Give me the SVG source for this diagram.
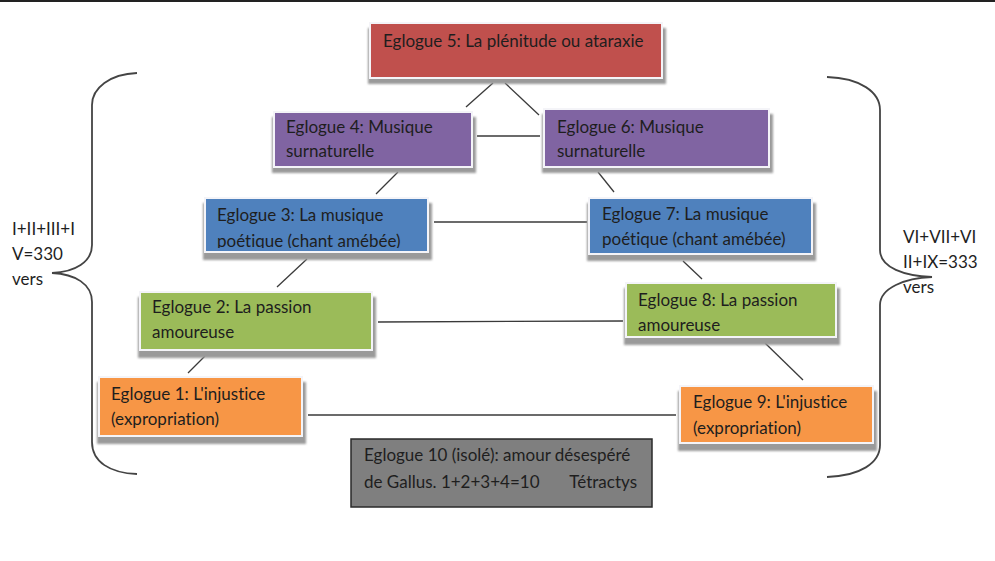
<svg xmlns="http://www.w3.org/2000/svg" width="995" height="561" viewBox="0 0 995 561">
<style>
text{font-family:Lato,"Open Sans","Liberation Sans",sans-serif;font-size:17px;fill:#1e1e1e;font-variant-ligatures:none}
.box{stroke:#f4f4f8;stroke-width:2}
.sh{fill:#9a9a9a;filter:url(#blur)}
.ln{stroke:#3a3a3a;stroke-width:1.3;fill:none}
.br{stroke:#444;stroke-width:1.8;fill:none}
</style>
<defs>
<filter id="blur" x="-5%" y="-20%" width="110%" height="140%"><feGaussianBlur stdDeviation="1.2"/></filter>
<clipPath id="c3"><rect x="205" y="198" width="223" height="50"/></clipPath>
</defs>
<rect x="0" y="0" width="995" height="561" fill="#fff"/>
<rect x="0" y="0" width="995" height="2" fill="#222"/>
<g id="connectors">
<line class="ln" x1="493" y1="83" x2="466" y2="107"/>
<line class="ln" x1="505" y1="83" x2="539" y2="115"/>
<line class="ln" x1="477" y1="136" x2="540" y2="136"/>
<line class="ln" x1="398" y1="172" x2="376" y2="194"/>
<line class="ln" x1="598" y1="172" x2="614" y2="192"/>
<line class="ln" x1="434" y1="222" x2="587" y2="222"/>
<line class="ln" x1="307" y1="259" x2="277" y2="287"/>
<line class="ln" x1="683" y1="261" x2="702" y2="279"/>
<line class="ln" x1="378" y1="322" x2="623" y2="321"/>
<line class="ln" x1="205" y1="356" x2="188" y2="373"/>
<line class="ln" x1="765" y1="343" x2="803" y2="380"/>
<line class="ln" x1="308" y1="415" x2="676" y2="415"/>
</g>
<g id="brace-left">
<path class="br" d="M137,73 C110,74 92,88 92,105 L92,245 C92,262 75,272 52,273 C75,274 92,284 92,302 L92,442 C92,462 110,473 137,474"/>
<text x="12" y="235">I+II+III+I</text>
<text x="12" y="260">V=330</text>
<text x="12" y="285">vers</text>
</g>
<g id="brace-right">
<path class="br" d="M827,77 C860,78 880,92 880,110 L880,250 C880,268 905,276 932,277 C905,278 880,288 880,305 L880,445 C880,463 860,476 827,477"/>
<text x="903" y="243">VI+VII+VI</text>
<text x="903" y="268">II+IX=333</text>
<text x="903" y="293">vers</text>
</g>
<g id="e5">
<rect class="sh" x="368" y="28" width="298" height="56"/>
<rect class="box" x="370" y="23" width="292" height="55" fill="#C0504D"/>
<text x="383" y="47">Eglogue 5: La plénitude ou ataraxie</text>
</g>
<g id="e4">
<rect class="sh" x="272" y="117" width="204" height="56"/>
<rect class="box" x="274" y="112" width="198" height="55" fill="#8064A2"/>
<text x="286" y="133">Eglogue 4: Musique</text>
<text x="286" y="157">surnaturelle</text>
</g>
<g id="e6">
<rect class="sh" x="542" y="114" width="231" height="59"/>
<rect class="box" x="544" y="109" width="225" height="58" fill="#8064A2"/>
<text x="557" y="133">Eglogue 6: Musique</text>
<text x="557" y="157">surnaturelle</text>
</g>
<g id="e3">
<rect class="sh" x="203" y="203" width="229" height="57"/>
<rect class="box" x="205" y="198" width="223" height="54" fill="#4F81BD"/>
<text x="217" y="221">Eglogue 3: La musique</text>
<text x="217" y="247" clip-path="url(#c3)">poétique (chant amébée)</text>
</g>
<g id="e7">
<rect class="sh" x="587" y="203" width="229" height="58"/>
<rect class="box" x="589" y="198" width="223" height="56" fill="#4F81BD"/>
<text x="602" y="220">Eglogue 7: La musique</text>
<text x="602" y="245">poétique (chant amébée)</text>
</g>
<g id="e2">
<rect class="sh" x="138" y="297" width="238" height="61"/>
<rect class="box" x="140" y="292" width="232" height="58" fill="#9BBB59"/>
<text x="152" y="313">Eglogue 2: La passion</text>
<text x="152" y="338">amoureuse</text>
</g>
<g id="e8">
<rect class="sh" x="624" y="288" width="216" height="57"/>
<rect class="box" x="626" y="283" width="210" height="54" fill="#9BBB59"/>
<text x="638" y="306">Eglogue 8: La passion</text>
<text x="638" y="331">amoureuse</text>
</g>
<g id="e1">
<rect class="sh" x="97" y="382" width="209" height="62"/>
<rect class="box" x="99" y="377" width="203" height="59" fill="#F79646"/>
<text x="111" y="400">Eglogue 1: L'injustice</text>
<text x="111" y="425">(expropriation)</text>
</g>
<g id="e9">
<rect class="sh" x="678" y="391" width="199" height="60"/>
<rect class="box" x="680" y="386" width="193" height="57" fill="#F79646"/>
<text x="693" y="408">Eglogue 9: L'injustice</text>
<text x="693" y="434">(expropriation)</text>
</g>
<g id="e10">
<rect x="351" y="439" width="301" height="68" fill="#7F7F7F" stroke="#2a2a2a" stroke-width="1.5"/>
<text x="364" y="461">Eglogue 10 (isolé): amour désespéré</text>
<text x="364" y="488">de Gallus. 1+2+3+4=10</text>
<text x="637" y="488" text-anchor="end">Tétractys</text>
</g>
</svg>
